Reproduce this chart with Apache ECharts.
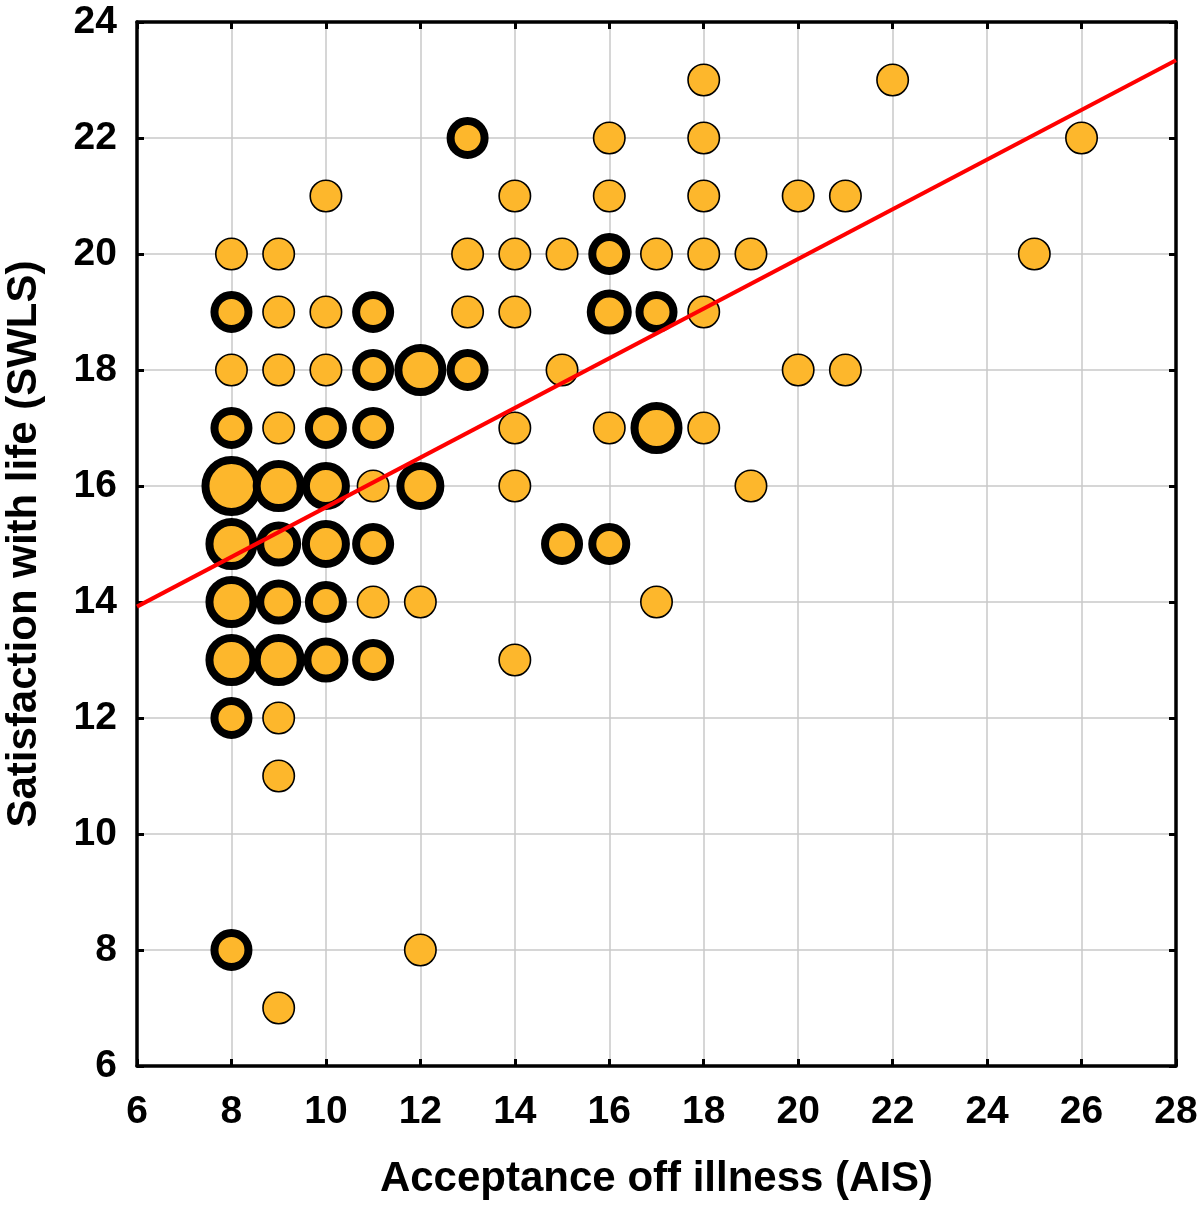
<!DOCTYPE html>
<html>
<head>
<meta charset="utf-8">
<script src="https://cdn.jsdelivr.net/npm/echarts@6/dist/echarts.min.js"></script>
<style>
html,body{margin:0;padding:0;background:#fff;}
#chart{width:1200px;height:1210px;}
</style>
</head>
<body>
<div id="chart"></div>
<script>
// AIS (x), SWLS (y), number of cases at that point (n)
const aisValues  = [18,22, 13,16,18,26, 10,14,16,18,20,21, 8,9,13,14,15,16,17,18,19,25, 8,9,10,11,13,14,16,17,18, 8,9,10,11,12,13,15,20,21, 8,9,10,11,14,16,17,18, 8,9,10,11,12,14,19, 8,9,10,11,15,16, 8,9,10,11,12,17, 8,9,10,11,14, 8,9, 9, 8,12, 9];
const swlsValues = [23,23, 22,22,22,22, 21,21,21,21,21,21, 20,20,20,20,20,20,20,20,20,20, 19,19,19,19,19,19,19,19,19, 18,18,18,18,18,18,18,18,18, 17,17,17,17,17,17,17,17, 16,16,16,16,16,16,16, 15,15,15,15,15,15, 14,14,14,14,14,14, 13,13,13,13,13, 12,12, 11, 8,8, 7];
const caseCounts = [1,1, 2,1,1,1, 1,1,1,1,1,1, 1,1,1,1,1,2,1,1,1,1, 2,1,1,2,1,1,3,2,1, 1,1,1,2,5,2,1,1,1, 2,1,2,2,1,1,5,1, 6,5,4,1,4,1,1, 5,3,4,2,2,2, 5,3,2,1,1,1, 5,5,3,2,1, 2,1, 1, 2,1, 1];

// Regression line end points
const fitX = [6, 28];
const fitY = [13.92, 23.34];

const xTicks = {min: 6, max: 28, interval: 2};
const yTicks = {min: 6, max: 24, interval: 2};

// marker look per count: outer diameter
const outerByCount = {1: 33, 2: 42, 3: 45, 4: 48, 5: 52, 6: 60};

const fill = '#FDB72C';
const scatterData = aisValues.map((x, i) => {
  const n = caseCounts[i];
  const bw = n === 1 ? 1.6 : 8;
  return {
    value: [x, swlsValues[i], n],
    symbolSize: outerByCount[n] - bw,
    itemStyle: {color: fill, borderColor: '#000', borderWidth: bw, opacity: 1}
  };
});

const font = 'Liberation Sans, Arial, Helvetica, sans-serif';
const chart = echarts.init(document.getElementById('chart'), null, {renderer: 'canvas'});

const axisLineStyle = {show: true, onZero: false, lineStyle: {color: '#000', width: 3.5}};
const tickStyle = {show: true, inside: true, length: 7, lineStyle: {color: '#000', width: 3}};

chart.setOption({
  animation: false,
  backgroundColor: '#fff',
  grid: {left: 137, top: 22, right: 24, bottom: 144, containLabel: false, outerBoundsMode: 'none'},
  xAxis: [{
    type: 'value', position: 'bottom',
    min: xTicks.min, max: xTicks.max, interval: xTicks.interval,
    name: 'Acceptance off illness (AIS)', nameLocation: 'middle', nameGap: 92,
    nameTextStyle: {fontFamily: font, fontWeight: 'bold', fontSize: 42, color: '#000'},
    axisLine: axisLineStyle, axisTick: tickStyle,
    axisLabel: {fontFamily: font, fontWeight: 'bold', fontSize: 39, color: '#000', margin: 27, showMinLabel: true, showMaxLabel: true},
    splitLine: {show: true, lineStyle: {color: '#c8c8c8', width: 1.5}}
  }, {
    type: 'value', position: 'top',
    min: xTicks.min, max: xTicks.max, interval: xTicks.interval,
    axisLine: axisLineStyle, axisTick: tickStyle,
    axisLabel: {show: false}, splitLine: {show: false}
  }],
  yAxis: [{
    type: 'value', position: 'left',
    min: yTicks.min, max: yTicks.max, interval: yTicks.interval,
    name: 'Satisfaction with life (SWLS)', nameLocation: 'middle', nameGap: 92,
    nameTextStyle: {fontFamily: font, fontWeight: 'bold', fontSize: 42, color: '#000'},
    axisLine: axisLineStyle, axisTick: tickStyle,
    axisLabel: {fontFamily: font, fontWeight: 'bold', fontSize: 39, color: '#000', margin: 20, showMinLabel: true, showMaxLabel: true},
    splitLine: {show: true, lineStyle: {color: '#c8c8c8', width: 1.5}}
  }, {
    type: 'value', position: 'right',
    min: yTicks.min, max: yTicks.max, interval: yTicks.interval,
    axisLine: axisLineStyle, axisTick: tickStyle,
    axisLabel: {show: false}, splitLine: {show: false}
  }],
  series: [{
    type: 'scatter',
    xAxisIndex: 0, yAxisIndex: 0,
    data: scatterData,
    itemStyle: {opacity: 1},
    z: 3
  }, {
    type: 'line',
    xAxisIndex: 0, yAxisIndex: 0,
    data: fitX.map((x, i) => [x, fitY[i]]),
    symbol: 'none',
    lineStyle: {color: '#ff0000', width: 4},
    z: 4
  }]
});
</script>
</body>
</html>
